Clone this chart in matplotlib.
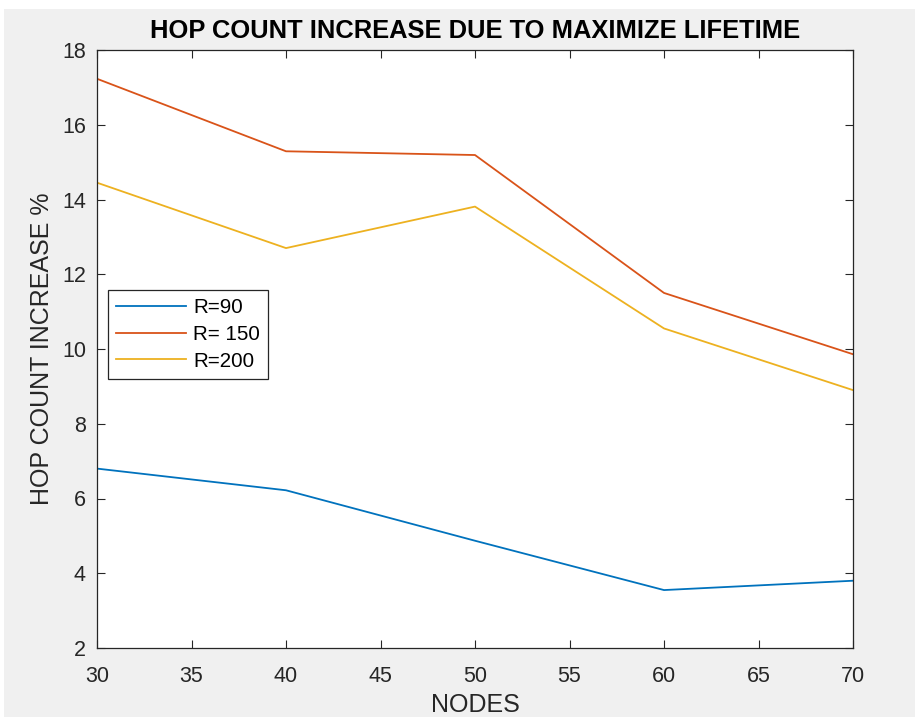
import matplotlib
matplotlib.use('Agg')
import matplotlib.pyplot as plt
from matplotlib.patches import Rectangle

nodes = [30, 40, 50, 60, 70]
r90 = [6.8, 6.22, 4.87, 3.55, 3.8]
r150 = [17.23, 15.29, 15.19, 11.5, 9.86]
r200 = [14.45, 12.7, 13.81, 10.55, 8.9]
labels = ['R=90', 'R= 150', 'R=200']

plt.rcParams['font.family'] = ['Liberation Sans', 'DejaVu Sans']

fig = plt.figure(figsize=(9.15, 7.17), dpi=100, facecolor='white')
# gray MATLAB figure background with a thin white strip on top/left
fig.patches.append(Rectangle((4 / 915, 0), 1, (717 - 9) / 717, transform=fig.transFigure,
                             facecolor='#F0F0F0', edgecolor='none', zorder=-10))
ax = fig.add_axes([97 / 915, 69 / 717, 756 / 915, 598 / 717])

ax.plot(nodes, r90, color='#0072BD', lw=1.3, label=labels[0])
ax.plot(nodes, r150, color='#D95319', lw=1.3, label=labels[1])
ax.plot(nodes, r200, color='#EDB120', lw=1.3, label=labels[2])

ax.set_xlim(30, 70)
ax.set_ylim(2, 18)
ax.set_xticks(range(30, 71, 5))
ax.set_yticks(range(2, 19, 2))
ax.tick_params(direction='in', top=True, right=True, length=6, width=0.8,
               colors='#262626', labelsize=15.5)
ax.tick_params(axis='x', pad=13)
ax.tick_params(axis='y', pad=8)
for s in ax.spines.values():
    s.set_color('#262626')
    s.set_linewidth(0.9)

ax.set_title('HOP COUNT INCREASE DUE TO MAXIMIZE LIFETIME', fontsize=18.4,
             fontweight='bold', pad=9)
ax.set_xlabel('NODES', fontsize=18, color='#262626', labelpad=4)
ax.set_ylabel('HOP COUNT INCREASE %', fontsize=18, color='#262626', labelpad=6)

leg = ax.legend(loc='upper left', bbox_to_anchor=(0.0146, 0.599), borderaxespad=0,
                fontsize=14.8, fancybox=False, framealpha=1, edgecolor='#262626',
                handlelength=3.4, handletextpad=0.35, borderpad=0.4, labelspacing=0.38)
leg.get_frame().set_linewidth(0.9)

plt.savefig('out.png', dpi=100, facecolor=fig.get_facecolor())
plt.close(fig)
